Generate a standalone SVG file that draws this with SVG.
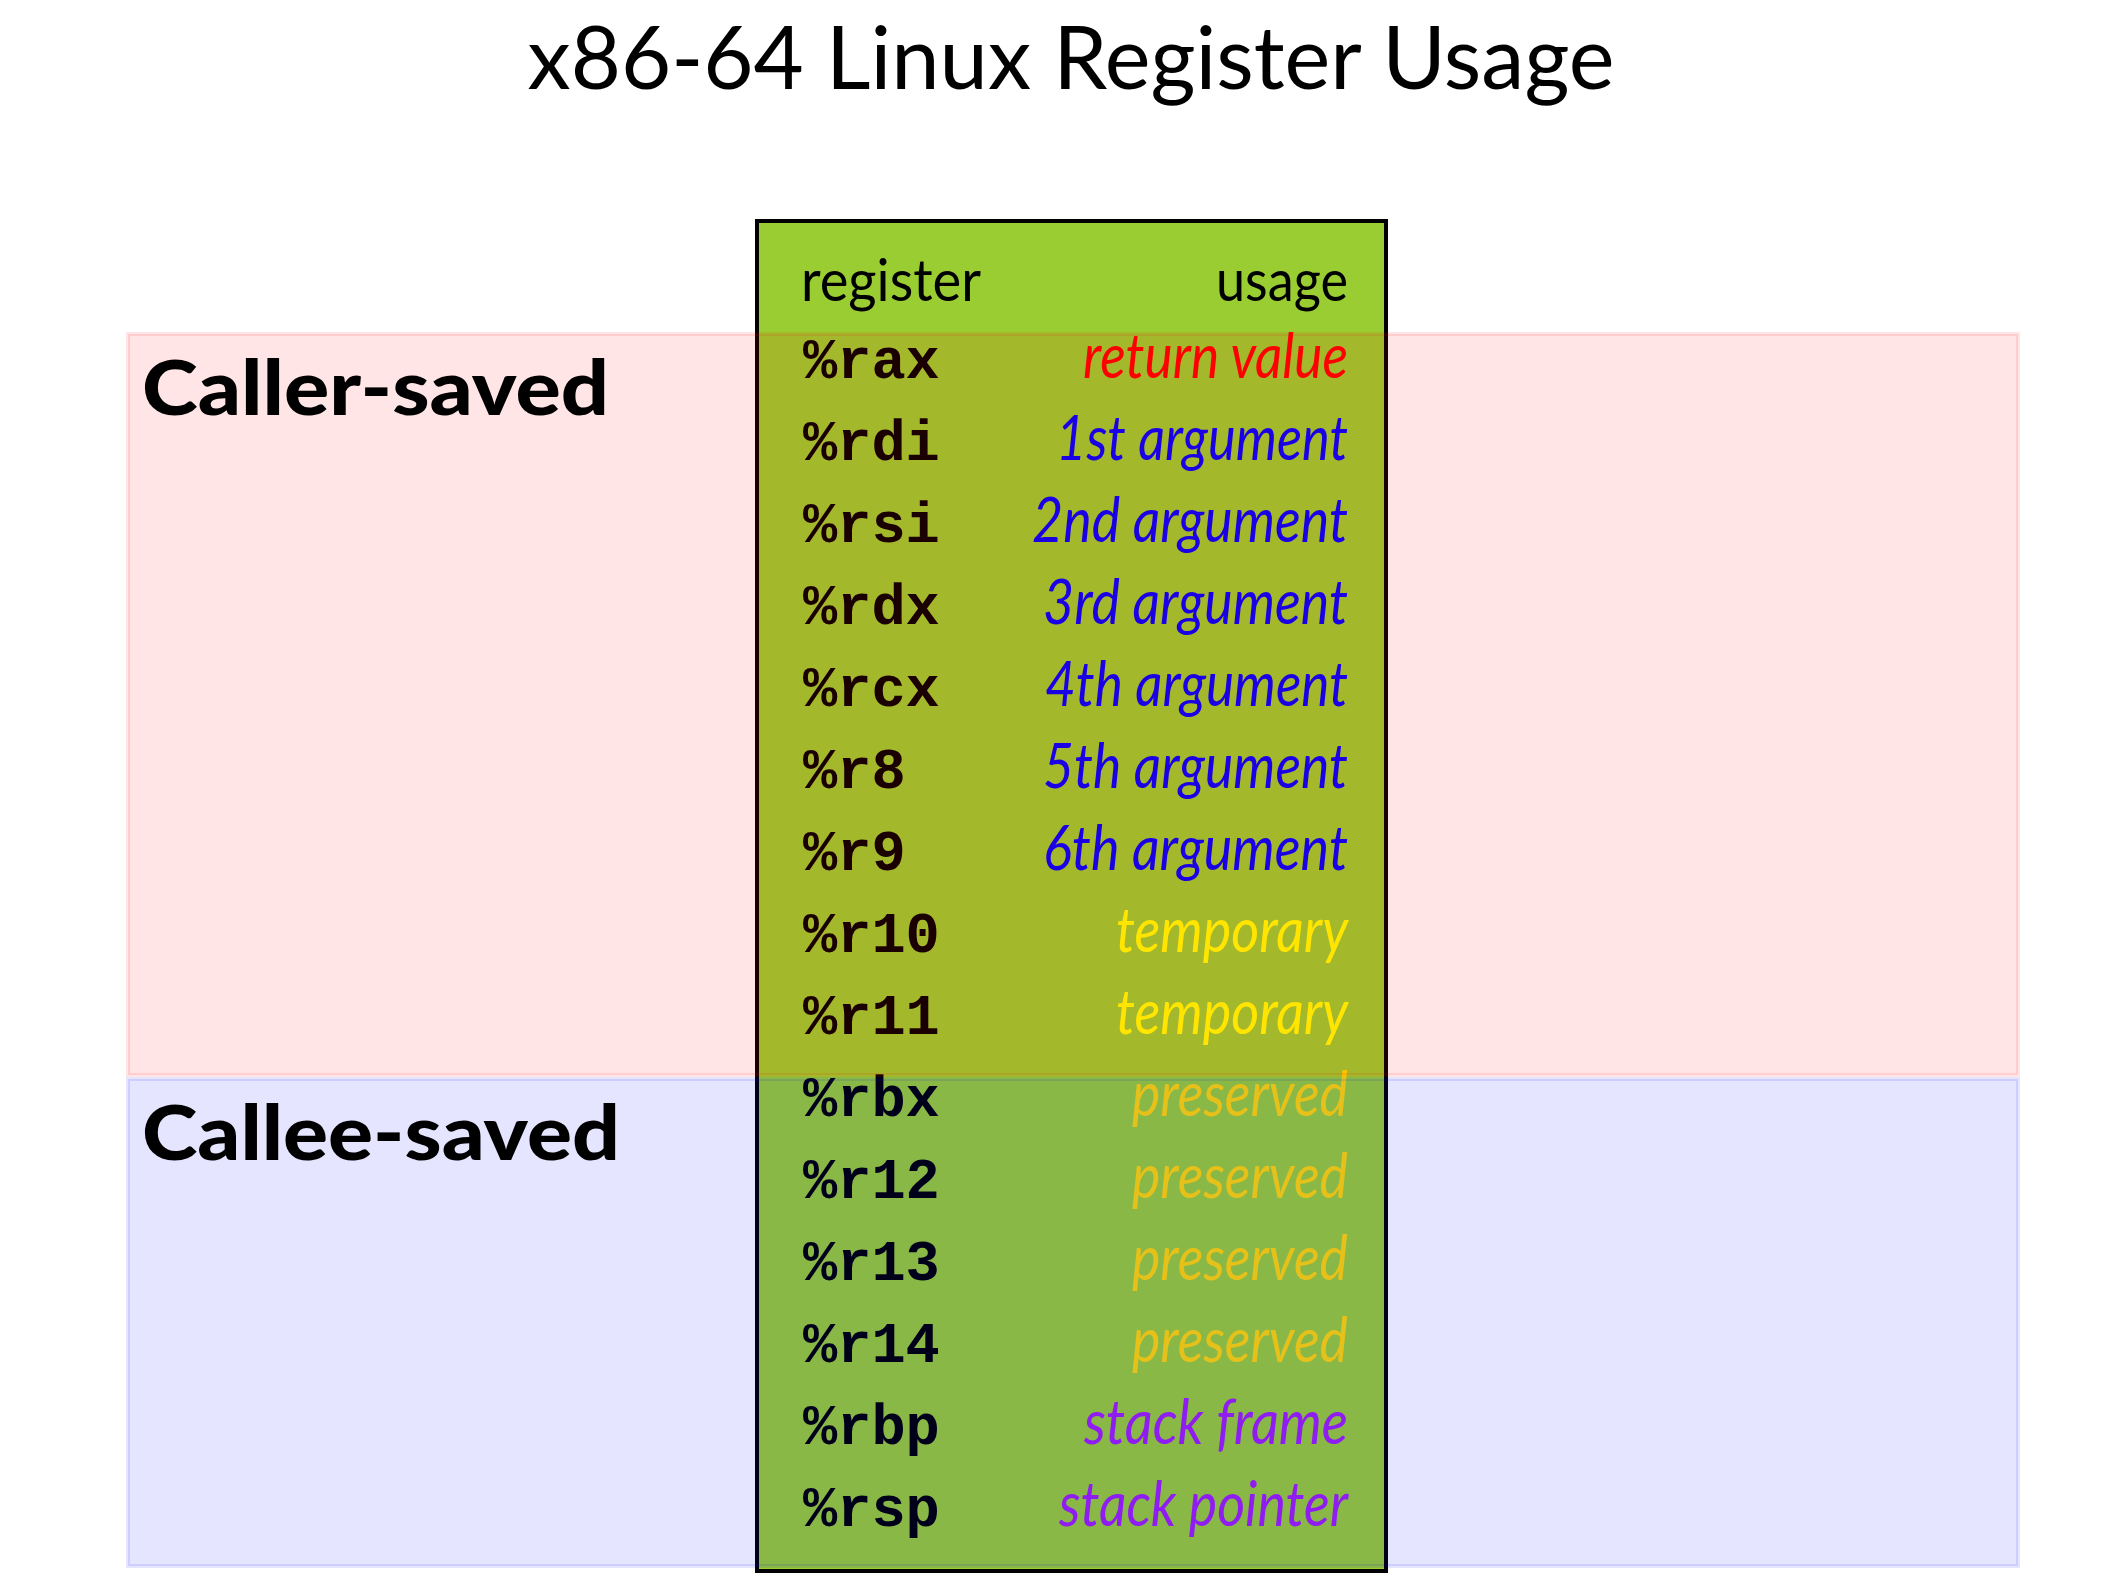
<svg xmlns="http://www.w3.org/2000/svg" width="2108" height="1582" viewBox="0 0 2108 1582">
<style>
.title{font-family:Lato,"Noto Sans","Liberation Sans",sans-serif;font-size:88px;fill:#000}
.grp{font-family:Lato,"Noto Sans","Liberation Sans",sans-serif;font-weight:900;font-size:76px;fill:#000}
.hdr{font-family:Lato,"Noto Sans","Liberation Sans",sans-serif;font-size:59px;fill:#000}
.reg{font-family:"Liberation Mono","DejaVu Sans Mono",monospace;font-weight:bold;font-size:57px;fill:#000}
.use{font-family:Lato,"Noto Sans","Liberation Sans",sans-serif;font-style:italic;font-size:62px;text-anchor:end}
.ret{fill:#ff0000}.arg{fill:#0000ff}.tmp{fill:#ffff00}.pre{fill:#ffd700}.stk{fill:#a020f0}
.caller{fill:rgba(255,0,0,0.1);stroke:rgba(255,0,0,0.1);stroke-width:4}
.callee{fill:rgba(0,0,255,0.1);stroke:rgba(0,0,255,0.1);stroke-width:4}
</style>
<rect width="2108" height="1582" fill="#fff"/>
<g id="title">
<text class="title" x="1071" y="89" text-anchor="middle" textLength="1087" lengthAdjust="spacingAndGlyphs">x86-64 Linux Register Usage</text>
</g>
<g id="register-table">
<rect x="757" y="221" width="629" height="1350" fill="#9acd32" stroke="#000" stroke-width="4"/>
<text class="hdr" x="801" y="301" textLength="180" lengthAdjust="spacingAndGlyphs">register</text>
<text class="hdr" x="1348" y="301" text-anchor="end" textLength="132" lengthAdjust="spacingAndGlyphs">usage</text>
<g id="regs">
<text class="reg" x="803" y="378">%rax</text>
<text class="reg" x="803" y="460">%rdi</text>
<text class="reg" x="803" y="542">%rsi</text>
<text class="reg" x="803" y="624">%rdx</text>
<text class="reg" x="803" y="706">%rcx</text>
<text class="reg" x="803" y="788">%r8</text>
<text class="reg" x="803" y="870">%r9</text>
<text class="reg" x="803" y="952">%r10</text>
<text class="reg" x="803" y="1034">%r11</text>
<text class="reg" x="803" y="1116">%rbx</text>
<text class="reg" x="803" y="1198">%r12</text>
<text class="reg" x="803" y="1280">%r13</text>
<text class="reg" x="803" y="1362">%r14</text>
<text class="reg" x="803" y="1444">%rbp</text>
<text class="reg" x="803" y="1526">%rsp</text>
</g>
<g id="usages">
<text class="use ret" x="1348" y="378" textLength="265" lengthAdjust="spacingAndGlyphs">return value</text>
<text class="use arg" x="1348" y="460" textLength="292" lengthAdjust="spacingAndGlyphs">1st argument</text>
<text class="use arg" x="1348" y="542" textLength="316" lengthAdjust="spacingAndGlyphs">2nd argument</text>
<text class="use arg" x="1348" y="624" textLength="305" lengthAdjust="spacingAndGlyphs">3rd argument</text>
<text class="use arg" x="1348" y="706" textLength="303" lengthAdjust="spacingAndGlyphs">4th argument</text>
<text class="use arg" x="1348" y="788" textLength="305" lengthAdjust="spacingAndGlyphs">5th argument</text>
<text class="use arg" x="1348" y="870" textLength="305" lengthAdjust="spacingAndGlyphs">6th argument</text>
<text class="use tmp" x="1348" y="952" textLength="232" lengthAdjust="spacingAndGlyphs">temporary</text>
<text class="use tmp" x="1348" y="1034" textLength="232" lengthAdjust="spacingAndGlyphs">temporary</text>
<text class="use pre" x="1348" y="1116" textLength="216" lengthAdjust="spacingAndGlyphs">preserved</text>
<text class="use pre" x="1348" y="1198" textLength="216" lengthAdjust="spacingAndGlyphs">preserved</text>
<text class="use pre" x="1348" y="1280" textLength="216" lengthAdjust="spacingAndGlyphs">preserved</text>
<text class="use pre" x="1348" y="1362" textLength="216" lengthAdjust="spacingAndGlyphs">preserved</text>
<text class="use stk" x="1348" y="1444" textLength="264" lengthAdjust="spacingAndGlyphs">stack frame</text>
<text class="use stk" x="1348" y="1526" textLength="289" lengthAdjust="spacingAndGlyphs">stack pointer</text>
</g>
</g>
<g id="caller-saved">
<rect class="caller" x="128" y="334" width="1890" height="741"/>
<text class="grp" x="142" y="415" textLength="467" lengthAdjust="spacingAndGlyphs">Caller-saved</text>
</g>
<g id="callee-saved">
<rect class="callee" x="128" y="1079" width="1890" height="487"/>
<text class="grp" x="142" y="1160" textLength="478" lengthAdjust="spacingAndGlyphs">Callee-saved</text>
</g>
<g id="connectors"/>
</svg>
